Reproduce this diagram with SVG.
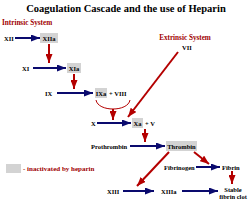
<svg xmlns="http://www.w3.org/2000/svg" width="251" height="201" viewBox="0 0 251 201">
<defs>
<marker id="nh" markerUnits="userSpaceOnUse" markerWidth="9" markerHeight="7" refX="9" refY="3.5" orient="auto"><path d="M0,0 L9,3.5 L0,7 Z" fill="#0a0a6e"/></marker>
<marker id="rh" markerUnits="userSpaceOnUse" markerWidth="9" markerHeight="7" refX="9" refY="3.5" orient="auto"><path d="M0,0 L9,3.5 L0,7 Z" fill="#b40000"/></marker>
</defs>
<style>
text{font-family:"Liberation Serif","Times New Roman",serif;font-weight:bold;font-size:6.5px;fill:#000}
.t{font-size:10.5px}
.r{fill:#a00000;font-size:7.2px}
.box{fill:#d3d3d3}
.n{stroke:#0a0a6e;stroke-width:2;fill:none;marker-end:url(#nh)}
.rd{stroke:#b40000;stroke-width:2;fill:none;marker-end:url(#rh)}
</style>
<rect width="251" height="201" fill="#fff"/>
<text class="t" x="126" y="12" text-anchor="middle">Coagulation Cascade and the use of Heparin</text>
<text class="r" x="2" y="25">Intrinsic System</text>
<text class="r" x="185" y="40" text-anchor="middle">Extrinsic System</text>
<g id="XII"><text x="4" y="40.5">XII</text></g>
<g id="XIIa"><rect class="box" x="40" y="33" width="18" height="10"/><text x="49" y="40.5" text-anchor="middle">XIIa</text></g>
<g id="XI"><text x="22" y="70.5">XI</text></g>
<g id="XIa"><rect class="box" x="67" y="63" width="14" height="10"/><text x="74" y="70.5" text-anchor="middle">XIa</text></g>
<g id="IX"><text x="45" y="95.5">IX</text></g>
<g id="IXa"><rect class="box" x="95" y="88" width="12" height="10"/><text x="101" y="95.5" text-anchor="middle">IXa</text><text x="109" y="95.5">+ VIII</text></g>
<g id="VII"><text x="182" y="49.5">VII</text></g>
<g id="X"><text x="91" y="125.5">X</text></g>
<g id="Xa"><rect class="box" x="132" y="118" width="11" height="10"/><text x="137.5" y="125.5" text-anchor="middle">Xa</text><text x="145" y="125.5">+ V</text></g>
<g id="Prothrombin"><text x="91" y="148.5">Prothrombin</text></g>
<g id="Thrombin"><rect class="box" x="166" y="141" width="31" height="10"/><text x="181.5" y="148.5" text-anchor="middle">Thrombin</text></g>
<g id="Fibrinogen"><text x="164" y="169.5">Fibrinogen</text></g>
<g id="Fibrin"><text x="222" y="169.5">Fibrin</text></g>
<g id="XIII"><text x="107" y="193.5">XIII</text></g>
<g id="XIIIa"><text x="161" y="193.5">XIIIa</text></g>
<g id="Clot"><text x="233" y="192" text-anchor="middle">Stable</text><text x="233" y="199" text-anchor="middle">fibrin clot</text></g>
<g id="legend"><rect class="box" x="6" y="164" width="15" height="9"/><text class="r" x="23" y="171" style="font-size:7px">- inactivated by heparin</text></g>
<g id="connectors">
<line class="n" x1="15" y1="38" x2="40" y2="38"/>
<line class="rd" x1="49" y1="44" x2="49" y2="63"/>
<line class="n" x1="33" y1="68" x2="66" y2="68"/>
<line class="rd" x1="74" y1="74" x2="74" y2="89"/>
<line class="n" x1="57" y1="93" x2="93" y2="93"/>
<path d="M96,100 C98,112 128,112 130,100" stroke="#b40000" stroke-width="1" fill="none"/>
<line class="rd" x1="113" y1="109" x2="113" y2="120"/>
<line class="n" x1="97" y1="123" x2="131" y2="123"/>
<line class="rd" x1="178" y1="52" x2="128" y2="117"/>
<line class="rd" x1="145" y1="129" x2="145" y2="142"/>
<line class="n" x1="130" y1="146" x2="165" y2="146"/>
<line class="rd" x1="169" y1="152" x2="137" y2="186"/>
<line class="rd" x1="194" y1="152" x2="209" y2="164"/>
<line class="n" x1="196" y1="167" x2="220" y2="167"/>
<line class="rd" x1="232" y1="171" x2="232" y2="184"/>
<line class="n" x1="123" y1="191" x2="154" y2="191"/>
<line class="n" x1="182" y1="191" x2="218" y2="191"/>
</g>
</svg>
